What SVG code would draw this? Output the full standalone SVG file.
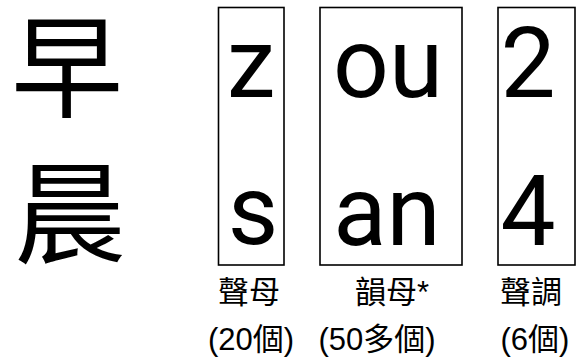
<svg xmlns="http://www.w3.org/2000/svg" width="577" height="358" viewBox="0 0 577 358">
<style>
.box{fill:none;stroke:#000;stroke-width:1.6}
.big{font-family:Roboto,"Noto Sans",sans-serif;font-size:98px;fill:#000;text-anchor:middle}
.han{font-family:"Liberation Sans","Noto Sans CJK TC",sans-serif;font-size:112px;fill:#000;text-anchor:middle}
.lab{font-family:"Liberation Sans","Noto Sans CJK TC",sans-serif;font-size:31px;fill:#000;text-anchor:middle}
</style>
<rect width="577" height="358" fill="#fff"/>
<g id="chars">
<text class="han" x="67" y="109">早</text>
<text class="han" x="70" y="255">晨</text>
</g>
<g id="initial">
<rect class="box" x="218.5" y="7.5" width="65.5" height="257.5"/>
<text class="big" x="251" y="97">z</text>
<text class="big" x="253" y="244">s</text>
<text class="lab" x="249" y="303">聲母</text>
<text class="lab" x="251" y="350">(20個)</text>
</g>
<g id="final">
<rect class="box" x="320" y="7.5" width="142" height="257.5"/>
<text class="big" x="388" y="97">ou</text>
<text class="big" x="387" y="245">an</text>
<text class="lab" x="392" y="303">韻母*</text>
<text class="lab" x="377" y="350">(50多個)</text>
</g>
<g id="tone">
<rect class="box" x="498" y="7.5" width="77" height="257.5"/>
<text class="big" x="528" y="97">2</text>
<text class="big" x="528" y="245">4</text>
<text class="lab" x="531" y="303">聲調</text>
<text class="lab" x="535" y="350">(6個)</text>
</g>
</svg>
